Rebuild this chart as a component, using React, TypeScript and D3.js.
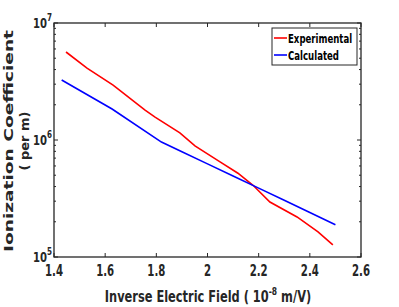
import * as d3 from 'd3';
import type { ReactNode } from 'react';

const W = 399;
const H = 307;
const MARGIN = { top: 23, right: 38, bottom: 50, left: 54 };

const expX = [1.447, 1.529, 1.631, 1.756, 1.795, 1.892, 1.951, 2.049, 2.119, 2.178, 2.244, 2.35, 2.432, 2.49];
const expY = [5.65e6, 4.12e6, 2.95e6, 1.8e6, 1.57e6, 1.15e6, 8.9e5, 6.5e5, 5.2e5, 4.1e5, 2.95e5, 2.2e5, 1.64e5, 1.27e5];

const calcX = [1.43, 1.627, 1.82, 1.9, 2.0, 2.1, 2.2, 2.3, 2.4, 2.5];
const calcY = [3.26e6, 1.84e6, 9.6e5, 7.95e5, 6.25e5, 4.93e5, 3.88e5, 3.05e5, 2.4e5, 1.89e5];

const xTicks = [1.4, 1.6, 1.8, 2, 2.2, 2.4, 2.6];
const yTicks = [1e5, 1e6, 1e7];
const yExps = ['5', '6', '7'];

const FONT = 'DejaVu Sans, sans-serif';
const AX = '#262626';

// horizontally squeezed text, the reference figure is condensed
const CText = ({
  x,
  y,
  s,
  size,
  anchor = 'start',
  fill = AX,
  children,
}: {
  x: number;
  y: number;
  s: number;
  size: number;
  anchor?: string;
  fill?: string;
  children: ReactNode;
}) => (
  <g transform={`translate(${x},${y}) scale(${s},1)`}>
    <text x={0} y={0} textAnchor={anchor} fontFamily={FONT} fontWeight="bold" fontSize={size} fill={fill}>
      {children}
    </text>
  </g>
);

export default function App() {
  const iw = W - MARGIN.left - MARGIN.right;
  const ih = H - MARGIN.top - MARGIN.bottom;
  const x = d3.scaleLinear().domain([1.4, 2.6]).range([MARGIN.left, MARGIN.left + iw]);
  const y = d3.scaleLog().domain([1e5, 1e7]).range([MARGIN.top + ih, MARGIN.top]);
  const line = d3
    .line<[number, number]>()
    .x((d) => x(d[0]))
    .y((d) => y(d[1]));
  const exp = expX.map((v, i) => [v, expY[i]] as [number, number]);
  const calc = calcX.map((v, i) => [v, calcY[i]] as [number, number]);

  // minor log ticks
  const minor: number[] = [];
  [1e5, 1e6].forEach((b) => {
    for (let k = 2; k <= 9; k++) minor.push(b * k);
  });

  const x0 = MARGIN.left;
  const x1 = MARGIN.left + iw;
  const y0 = MARGIN.top + ih;
  const y1 = MARGIN.top;

  return (
    <svg width={W} height={H} style={{ position: 'absolute', left: 0, top: 0, background: '#fff' }}>
      <rect width={W} height={H} fill="#fff" />
      {xTicks.map((t) => (
        <g key={'x' + t}>
          <line x1={x(t)} x2={x(t)} y1={y0} y2={y0 - 4} stroke={AX} strokeWidth={1} />
          <line x1={x(t)} x2={x(t)} y1={y1} y2={y1 + 4} stroke={AX} strokeWidth={1} />
          <CText x={x(t)} y={y0 + 19} s={0.68} size={15} anchor="middle">
            {String(t)}
          </CText>
        </g>
      ))}
      {yTicks.map((t, i) => (
        <g key={'y' + t}>
          <line x1={x0} x2={x0 + 4} y1={y(t)} y2={y(t)} stroke={AX} />
          <line x1={x1} x2={x1 - 4} y1={y(t)} y2={y(t)} stroke={AX} />
          <CText x={x0 - 2} y={y(t) + 5} s={0.72} size={14} anchor="end">
            10
            <tspan dy={-7} fontSize={10}>
              {yExps[i]}
            </tspan>
          </CText>
        </g>
      ))}
      {minor.map((t) => (
        <g key={'m' + t}>
          <line x1={x0} x2={x0 + 2} y1={y(t)} y2={y(t)} stroke={AX} />
          <line x1={x1} x2={x1 - 2} y1={y(t)} y2={y(t)} stroke={AX} />
        </g>
      ))}
      <rect x={x0} y={y1} width={iw} height={ih} fill="none" stroke={AX} strokeWidth={1.3} />

      <path d={line(exp) || ''} fill="none" stroke="#ff0000" strokeWidth={1.6} />
      <path d={line(calc) || ''} fill="none" stroke="#0000ff" strokeWidth={1.6} />

      {/* legend */}
      <rect x={272} y={28} width={85} height={37} fill="#fff" stroke={AX} strokeWidth={1} />
      <line x1={274} x2={287} y1={38} y2={38} stroke="#ff0000" strokeWidth={1.6} />
      <line x1={274} x2={287} y1={55} y2={55} stroke="#0000ff" strokeWidth={1.6} />
      <CText x={288} y={43} s={0.66} size={13} fill="#000">
        Experimental
      </CText>
      <CText x={288} y={60} s={0.66} size={13} fill="#000">
        Calculated
      </CText>

      {/* axis labels */}
      <CText x={208} y={302} s={0.76} size={15} anchor="middle">
        Inverse Electric Field ( 10
        <tspan dy={-7} fontSize={10}>
          -8
        </tspan>
        <tspan dy={7}> m/V)</tspan>
      </CText>
      <text
        transform={`translate(13,141) rotate(-90)`}
        textAnchor="middle"
        fontFamily={FONT}
        fontWeight="bold"
        fontSize={13}
        fill={AX}
        textLength={222}
        lengthAdjust="spacingAndGlyphs"
      >
        Ionization Coefficient
      </text>
      <text
        transform={`translate(29,141) rotate(-90)`}
        textAnchor="middle"
        fontFamily={FONT}
        fontWeight="bold"
        fontSize={13}
        fill={AX}
      >
        ( per m)
      </text>
    </svg>
  );
}
